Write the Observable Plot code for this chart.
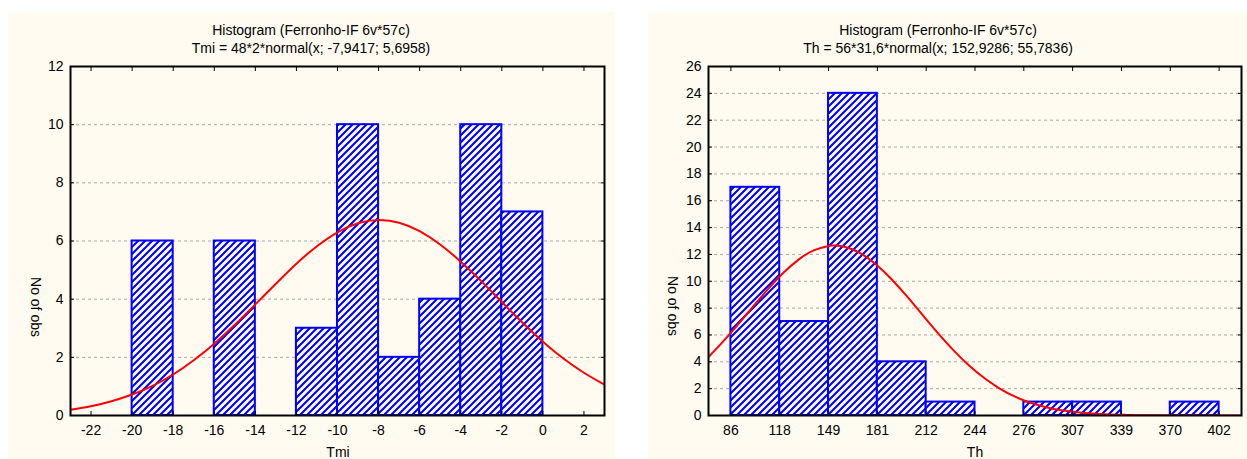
<!DOCTYPE html>
<html><head><meta charset="utf-8">
<script src="https://cdn.jsdelivr.net/npm/d3@7"></script>
<script src="https://cdn.jsdelivr.net/npm/@observablehq/plot@0.6"></script>
<style>
body{margin:0;background:#fff;font-family:"Liberation Sans",Arial,sans-serif;width:1247px;height:459px;overflow:hidden;position:relative;}
.panel{position:absolute;background:#fffbf0;}
.lab{position:absolute;font-size:14px;color:#000;white-space:nowrap;transform:translate(-50%,-50%);}
.rot{transform:translate(-50%,-50%) rotate(90deg);}
.chart{position:absolute;}
</style></head><body>
<div class="panel" style="left:8px;top:12px;width:607px;height:447px"></div>
<div class="panel" style="left:648px;top:12px;width:599px;height:447px"></div>
<div class="lab" style="left:311px;top:30px">Histogram (Ferronho-IF 6v*57c)</div>
<div class="lab" style="left:311px;top:48px">Tmi = 48*2*normal(x; -7,9417; 5,6958)</div>
<div class="lab" style="left:938px;top:30px">Histogram (Ferronho-IF 6v*57c)</div>
<div class="lab" style="left:938px;top:48px">Th = 56*31,6*normal(x; 152,9286; 55,7836)</div>
<div class="lab" style="left:338px;top:452px">Tmi</div>
<div class="lab" style="left:975px;top:452px">Th</div>
<div class="lab rot" style="left:36px;top:307px">No of obs</div>
<div class="lab rot" style="left:673px;top:306px">No of obs</div>
<div id="c1" class="chart" style="left:8px;top:56px"></div>
<div id="c2" class="chart" style="left:648px;top:56px"></div>
<script>
// ---- Left chart: Tmi ----
const tmiBinStart = [-20, -16, -12, -10, -8, -6, -4, -2];
const tmiBinEnd   = [-18, -14, -10, -8, -6, -4, -2, 0];
const tmiCounts   = [6, 6, 3, 10, 2, 4, 10, 7];
const tmiTicks    = [-22, -20, -18, -16, -14, -12, -10, -8, -6, -4, -2, 0, 2];
const tmiTickLabels = ["-22","-20","-18","-16","-14","-12","-10","-8","-6","-4","-2","0","2"];
const tmiYTicks   = [0, 2, 4, 6, 8, 10, 12];
const tmiCurveX = [-23,-22,-21,-20,-19,-18,-17,-16,-15,-14,-13,-12,-11,-10,-9,-8,-7,-6,-5,-4,-3,-2,-1,0,1,2,3];
const tmiCurveY = [0.20,0.32,0.49,0.72,1.02,1.41,1.90,2.47,3.12,3.82,4.53,5.22,5.82,6.30,6.61,6.72,6.63,6.34,5.88,5.29,4.62,3.90,3.20,2.54,1.96,1.47,1.06];

// ---- Right chart: Th ----
const thBinStart = [86, 117.6, 149.2, 180.8, 212.4, 244, 275.6, 307.2, 338.8, 370.4];
const thBinEnd   = [117.6, 149.2, 180.8, 212.4, 244, 275.6, 307.2, 338.8, 370.4, 402];
const thCounts   = [17, 7, 24, 4, 1, 0, 1, 1, 0, 1];
const thTicks    = [86, 117.6, 149.2, 180.8, 212.4, 244, 275.6, 307.2, 338.8, 370.4, 402];
const thTickLabels = ["86","118","149","181","212","244","276","307","339","370","402"];
const thYTicks   = [0, 2, 4, 6, 8, 10, 12, 14, 16, 18, 20, 22, 24, 26];
const thCurveX = [71.5,80,90,100,110,120,130,140,150,153,160,170,180,190,200,210,220,230,240,250,260,270,280,290,300,310,320,330,340,350,360,370,380,390,400,410,416.5];
const thCurveY = [4.36,5.39,6.70,8.07,9.41,10.63,11.63,12.32,12.64,12.66,12.56,12.08,11.25,10.15,8.87,7.50,6.14,4.87,3.74,2.79,2.01,1.40,0.95,0.62,0.39,0.24,0.14,0.08,0.05,0.02,0.01,0.006,0.003,0.001,0.0006,0.0003,0.0002];

function addHatch(svg, id) {
  const ns = "http://www.w3.org/2000/svg";
  const defs = document.createElementNS(ns, "defs");
  defs.innerHTML = `<pattern id="${id}" patternUnits="userSpaceOnUse" width="7" height="7">
    <rect width="7" height="7" fill="#ffffff"/>
    <path d="M0,7L7,0M-1,1L1,-1M6,8L8,6" stroke="#0000ff" stroke-width="2.1"/>
  </pattern>`;
  svg.insertBefore(defs, svg.firstChild);
}

function histChart({id, starts, ends, counts, cx, cy, xDomain, xTicks, xLabels, yTicks, width, marginLeft, marginRight}) {
  const bins = counts.map((n, i) => ({a: starts[i], b: ends[i], n})).filter(d => d.n > 0);
  const curve = cx.map((x, i) => ({x, y: cy[i]}));
  const yMax = yTicks[yTicks.length - 1];
  const grid = yTicks.filter(v => v > 0 && v < yMax);
  const fmt = d => xLabels[xTicks.indexOf(d)];
  const svg = Plot.plot({
    width, height: 403,
    marginTop: 10, marginBottom: 44, marginLeft, marginRight,
    style: {background: "transparent", fontFamily: '"Liberation Sans", Arial, sans-serif', fontSize: "14px", color: "#000", overflow: "visible"},
    x: {domain: xDomain, label: null},
    y: {domain: [0, yMax], label: null},
    marks: [
      Plot.ruleY(grid, {stroke: "#a8a8a8", strokeDasharray: "3 3", strokeWidth: 1}),
      Plot.rect(bins, {x1: "a", x2: "b", y1: () => 0, y2: "n", fill: `url(#${id})`, stroke: "#0000ff", strokeWidth: 2}),
      Plot.line(curve, {x: "x", y: "y", stroke: "#ff0000", strokeWidth: 2, curve: "natural", clip: true}),
      Plot.frame({stroke: "#000", strokeWidth: 2}),
      Plot.axisX({ticks: xTicks, tickFormat: fmt, tickSize: 0, tickPadding: 10, fontSize: 14}),
      Plot.axisX({ticks: xTicks, tickFormat: () => "", tickSize: -4, anchor: "bottom"}),
      Plot.axisX({ticks: xTicks, tickFormat: () => "", tickSize: -4, anchor: "top"}),
      Plot.axisY({ticks: yTicks, tickSize: 0, tickPadding: 7, fontSize: 14}),
      Plot.axisY({ticks: yTicks, tickFormat: () => "", tickSize: -4, anchor: "left"}),
      Plot.axisY({ticks: yTicks, tickFormat: () => "", tickSize: -4, anchor: "right"})
    ]
  });
  addHatch(svg, id);
  return svg;
}

document.getElementById("c1").appendChild(histChart({
  id: "hatch1", starts: tmiBinStart, ends: tmiBinEnd, counts: tmiCounts,
  cx: tmiCurveX, cy: tmiCurveY, xDomain: [-23, 3], xTicks: tmiTicks, xLabels: tmiTickLabels,
  yTicks: tmiYTicks, width: 607, marginLeft: 62, marginRight: 11
}));
document.getElementById("c2").appendChild(histChart({
  id: "hatch2", starts: thBinStart, ends: thBinEnd, counts: thCounts,
  cx: thCurveX, cy: thCurveY, xDomain: [71.5, 416.5], xTicks: thTicks, xLabels: thTickLabels,
  yTicks: thYTicks, width: 599, marginLeft: 60, marginRight: 6
}));
</script>
</body></html>
